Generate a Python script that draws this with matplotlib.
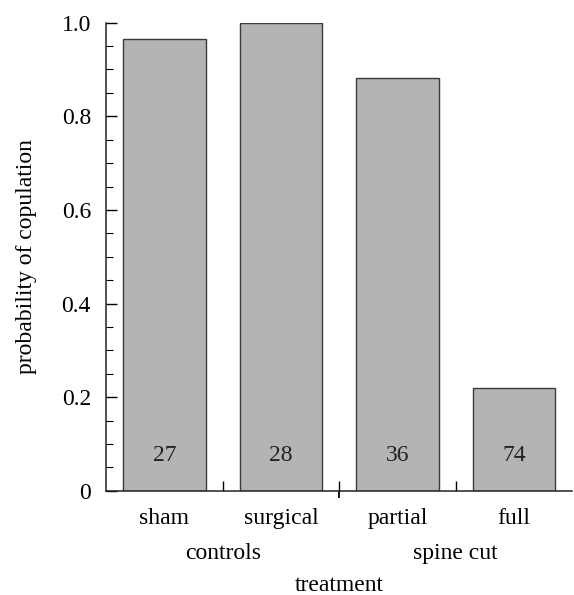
import matplotlib.pyplot as plt
from matplotlib import font_manager
from matplotlib.transforms import blended_transform_factory

# pick a Times-like serif that is actually available
serif = 'STIXGeneral'
for name in ['Liberation Serif', 'Times New Roman', 'Nimbus Roman', 'TeX Gyre Termes']:
    try:
        font_manager.findfont(name, fallback_to_default=False)
        serif = name
        break
    except Exception:
        pass
plt.rcParams['font.family'] = [serif, 'DejaVu Serif']

categories = ['sham', 'surgical', 'partial', 'full']
probability = [0.965, 1.0, 0.882, 0.22]
n_counts = [27, 28, 36, 74]
groups = ['controls', 'spine cut']
group_centers = [0.5, 2.5]
y_ticks = [0, 0.2, 0.4, 0.6, 0.8, 1.0]
y_tick_labels = ['0', '0.2', '0.4', '0.6', '0.8', '1.0']

fs = 17

fig = plt.figure(figsize=(5.74, 5.95), dpi=100)
ax = fig.add_axes([0.185, 0.175, 0.812, 0.787])

x = list(range(len(categories)))
ax.bar(x, probability, width=0.71, color='#b3b4b6', edgecolor='#3a3a3a', linewidth=1.0)

for xi, n in zip(x, n_counts):
    ax.text(xi, 0.075, str(n), ha='center', va='center', fontsize=fs, color='#222222')

ax.set_xlim(-0.5, 3.5)
ax.set_ylim(0, 1.0)

for s in ['top', 'right']:
    ax.spines[s].set_visible(False)
for s in ['left', 'bottom']:
    ax.spines[s].set_linewidth(1.1)
    ax.spines[s].set_color('#222222')

ax.set_yticks(y_ticks)
ax.set_yticklabels(y_tick_labels)
ax.set_yticks([v / 20 for v in range(21)], minor=True)
ax.tick_params(axis='y', which='major', direction='in', length=8, width=1, labelsize=fs, pad=11)
ax.tick_params(axis='y', which='minor', direction='in', length=5, width=0.8)

ax.set_xticks(x)
ax.set_xticklabels(categories)
ax.set_xticks([0.5, 1.5, 2.5], minor=True)
ax.tick_params(axis='x', which='major', length=0, labelsize=fs, pad=12)
ax.tick_params(axis='x', which='minor', direction='in', length=7, width=1)

# separator tick between the two groups, pointing down
sec = ax.secondary_xaxis('bottom')
sec.set_xticks([1.5])
sec.set_xticklabels([''])
sec.spines['bottom'].set_visible(False)
sec.tick_params(direction='out', length=5, width=1.3)

trans = blended_transform_factory(ax.transData, ax.transAxes)
for gx, g in zip(group_centers, groups):
    ax.text(gx, -0.133, g, transform=trans, ha='center', va='center', fontsize=fs)

ax.text(0.5, -0.203, 'treatment', transform=ax.transAxes, ha='center', va='center', fontsize=fs)
ax.set_ylabel('probability of copulation', fontsize=fs, labelpad=18)

fig.savefig('out.png', dpi=100)
